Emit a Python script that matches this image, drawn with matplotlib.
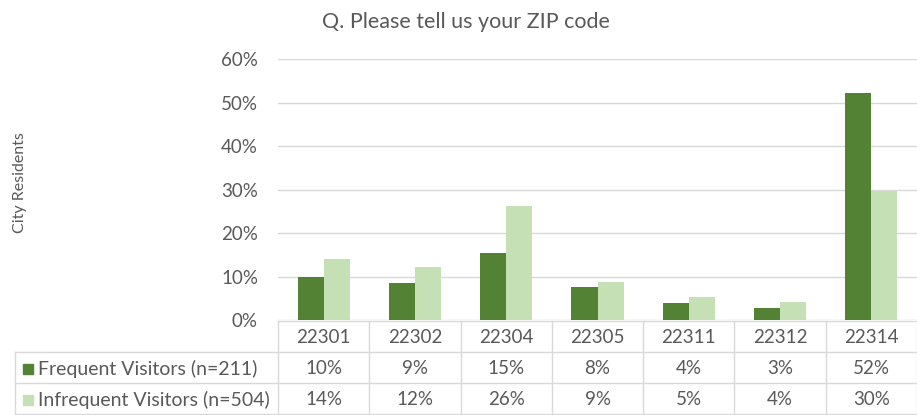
import matplotlib
matplotlib.use("Agg")
import matplotlib.pyplot as plt
import numpy as np

# ZIP code answers, share of respondents (%)
zip_codes = ["22301", "22302", "22304", "22305", "22311", "22312", "22314"]
frequent = [10.0, 8.6, 15.4, 7.6, 3.8, 2.8, 52.1]
infrequent = [14.0, 12.2, 26.3, 8.7, 5.2, 4.2, 29.7]
series_names = ["Frequent Visitors (n=211)", "Infrequent Visitors (n=504)"]

dark_green = "#548235"
light_green = "#C5E0B4"
text_grey = "#595959"
line_grey = "#D9D9D9"

plt.rcParams["font.family"] = ["Lato", "DejaVu Sans"]

W, H = 917, 415
fig = plt.figure(figsize=(W / 100, H / 100), dpi=100)

# pixel layout of plot area
left_px, right_px = 278, 917
top_px, zero_px = 59, 320
ax = fig.add_axes([left_px / W, (H - zero_px) / H,
                   (right_px - left_px) / W, (zero_px - top_px) / H])

x = np.arange(len(zip_codes))
bw = 0.285
ax.bar(x - bw / 2, frequent, bw, color=dark_green, zorder=3)
ax.bar(x + bw / 2, infrequent, bw, color=light_green, zorder=3)

ax.set_xlim(-0.5, len(zip_codes) - 0.5)
ax.set_ylim(0, 60)
ax.set_yticks(range(0, 61, 10))
ax.set_yticklabels([f"{v}%" for v in range(0, 61, 10)])
ax.yaxis.grid(True, color=line_grey, linewidth=1, zorder=0)
ax.tick_params(axis="y", length=0, pad=14.4, labelsize=13.5, labelcolor=text_grey)
ax.set_xticks([])
for s in ax.spines.values():
    s.set_visible(False)

fig.text(20 / W, (H - 183) / H, "City Residents", rotation=90,
         ha="center", va="center", fontsize=11.5, color=text_grey)
fig.text(466 / W, (H - 22) / H, "Q. Please tell us your ZIP code",
         ha="center", va="center", fontsize=15.5, color=text_grey)

# data table under the chart, drawn in pixel coordinates
tab = fig.add_axes([0, 0, 1, 1], facecolor="none")
tab.set_xlim(0, W)
tab.set_ylim(H, 0)
tab.axis("off")

col_w = (right_px - left_px) / len(zip_codes)
row_edges = [320.5, 352, 383, 414]
lc = dict(color=line_grey, linewidth=1)
tab.plot([left_px, right_px], [row_edges[0]] * 2, **lc)
for y in row_edges[1:]:
    tab.plot([15, right_px], [y, y], **lc)
tab.plot([15, 15], [row_edges[1], row_edges[3]], **lc)
for i in range(len(zip_codes) + 1):
    xe = left_px + i * col_w
    tab.plot([xe, xe], [row_edges[0], row_edges[3]], **lc)

rows = [frequent, infrequent]
colors = [dark_green, light_green]
for i, z in enumerate(zip_codes):
    cx = left_px + (i + 0.5) * col_w
    tab.text(cx, (row_edges[0] + row_edges[1]) / 2 + 1, z, ha="center",
             va="center", fontsize=13.5, color=text_grey)
    for r, vals in enumerate(rows):
        tab.text(cx, (row_edges[r + 1] + row_edges[r + 2]) / 2 + 1,
                 f"{vals[i]:.0f}%", ha="center", va="center",
                 fontsize=13.5, color=text_grey)

for r, name in enumerate(series_names):
    yc = (row_edges[r + 1] + row_edges[r + 2]) / 2 + 1
    tab.add_patch(plt.Rectangle((23, yc - 5), 10, 10, color=colors[r]))
    tab.text(38, yc, name, ha="left", va="center", fontsize=14,
             color=text_grey)

fig.savefig("out.png", dpi=100)
